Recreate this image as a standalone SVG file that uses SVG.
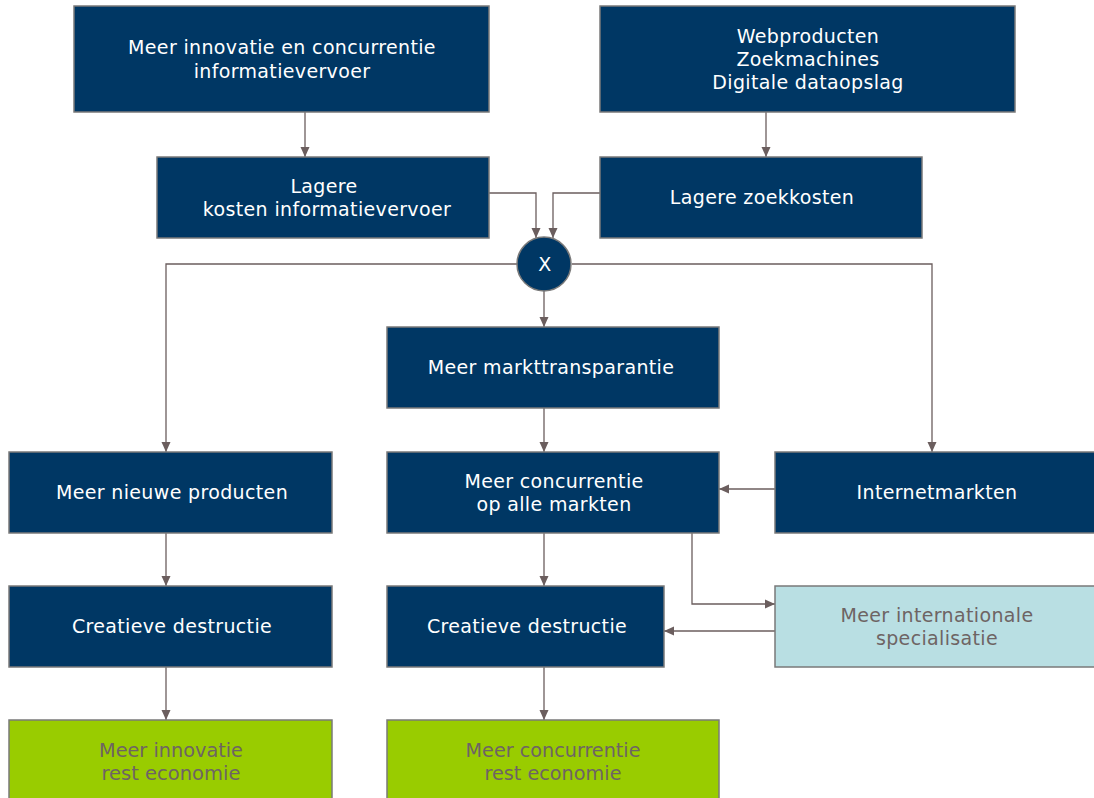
<svg xmlns="http://www.w3.org/2000/svg" width="1094" height="798" viewBox="0 0 1094 798">
<style>
.n{fill:#003764;stroke:#7a7a7a;stroke-width:1.5}
.lb{fill:#b9dfe3;stroke:#7a7a7a;stroke-width:1.5}
.gr{fill:#99cc00;stroke:#7a7a7a;stroke-width:1.5}
.t{font-family:"DejaVu Sans",Verdana,sans-serif;font-size:19px;letter-spacing:0.35px;fill:#ffffff;text-anchor:middle}
.tg{font-family:"DejaVu Sans",Verdana,sans-serif;font-size:19px;letter-spacing:0.35px;fill:#6e6464;text-anchor:middle}
.tc{font-family:"DejaVu Sans Condensed","DejaVu Sans",sans-serif;font-size:20px;fill:#6e6464;text-anchor:middle}
.c{fill:none;stroke:#6b5e5e;stroke-width:1.3}
</style>
<defs>
<marker id="a" markerUnits="userSpaceOnUse" markerWidth="10" markerHeight="10" viewBox="0 0 10 10" refX="10" refY="5" orient="auto">
<path d="M0,0.5 L10,5 L0,9.5 Z" fill="#6b5e5e"/>
</marker>
</defs>
<g id="connectors">
<path class="c" d="M305,112 V157" marker-end="url(#a)"/>
<path class="c" d="M766,112 V157" marker-end="url(#a)"/>
<path class="c" d="M489,193 H536 V238" marker-end="url(#a)"/>
<path class="c" d="M600,193 H553 V238" marker-end="url(#a)"/>
<path class="c" d="M517,264 H166 V452" marker-end="url(#a)"/>
<path class="c" d="M572,264 H932 V452" marker-end="url(#a)"/>
<path class="c" d="M544,291 V327" marker-end="url(#a)"/>
<path class="c" d="M544,408 V452" marker-end="url(#a)"/>
<path class="c" d="M775,489 H719" marker-end="url(#a)"/>
<path class="c" d="M166,533 V586" marker-end="url(#a)"/>
<path class="c" d="M544,533 V586" marker-end="url(#a)"/>
<path class="c" d="M692,533 V604 H775" marker-end="url(#a)"/>
<path class="c" d="M775,631 H664" marker-end="url(#a)"/>
<path class="c" d="M166,667 V720" marker-end="url(#a)"/>
<path class="c" d="M544,667 V720" marker-end="url(#a)"/>
</g>
<g id="n1"><rect class="n" x="74" y="6" width="415" height="106"/>
<text class="t" x="282" y="54">Meer innovatie en concurrentie</text>
<text class="t" x="282" y="78">informatievervoer</text></g>
<g id="n2"><rect class="n" x="600" y="6" width="415" height="106"/>
<text class="t" x="808" y="43">Webproducten</text>
<text class="t" x="808" y="66">Zoekmachines</text>
<text class="t" x="808" y="89">Digitale dataopslag</text></g>
<g id="n3"><rect class="n" x="157" y="157" width="332" height="81"/>
<text class="t" x="324" y="193">Lagere</text>
<text class="t" x="327" y="216">kosten informatievervoer</text></g>
<g id="n4"><rect class="n" x="600" y="157" width="322" height="81"/>
<text class="t" x="762" y="204">Lagere zoekkosten</text></g>
<g id="x"><circle class="n" cx="544" cy="264" r="27"/>
<text class="t" x="545" y="271">X</text></g>
<g id="n5"><rect class="n" x="387" y="327" width="332" height="81"/>
<text class="t" x="551" y="374">Meer markttransparantie</text></g>
<g id="n6"><rect class="n" x="9" y="452" width="323" height="81"/>
<text class="t" x="172" y="499">Meer nieuwe producten</text></g>
<g id="n7"><rect class="n" x="387" y="452" width="332" height="81"/>
<text class="t" x="554" y="488">Meer concurrentie</text>
<text class="t" x="554" y="511">op alle markten</text></g>
<g id="n8"><rect class="n" x="775" y="452" width="322" height="81"/>
<text class="t" x="937" y="499">Internetmarkten</text></g>
<g id="n9"><rect class="n" x="9" y="586" width="323" height="81"/>
<text class="t" x="172" y="633">Creatieve destructie</text></g>
<g id="n10"><rect class="n" x="387" y="586" width="277" height="81"/>
<text class="t" x="527" y="633">Creatieve destructie</text></g>
<g id="n11"><rect class="lb" x="775" y="586" width="322" height="81"/>
<text class="tg" x="937" y="622">Meer internationale</text>
<text class="tg" x="937" y="645">specialisatie</text></g>
<g id="n12"><rect class="gr" x="9" y="720" width="323" height="82"/>
<text class="tc" x="171" y="757" textLength="144" lengthAdjust="spacingAndGlyphs">Meer innovatie</text>
<text class="tc" x="171" y="780" textLength="139" lengthAdjust="spacingAndGlyphs">rest economie</text></g>
<g id="n13"><rect class="gr" x="387" y="720" width="332" height="82"/>
<text class="tc" x="553" y="757" textLength="175" lengthAdjust="spacingAndGlyphs">Meer concurrentie</text>
<text class="tc" x="553" y="780" textLength="137" lengthAdjust="spacingAndGlyphs">rest economie</text></g>
</svg>
